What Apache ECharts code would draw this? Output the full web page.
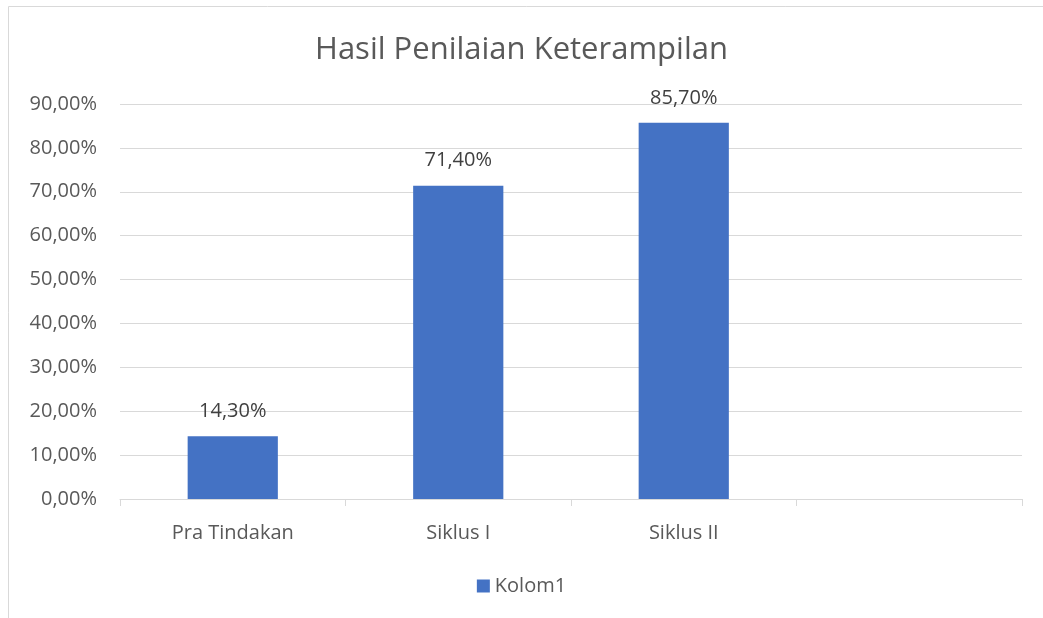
<!DOCTYPE html>
<html><head><meta charset="utf-8">
<script src="https://cdn.jsdelivr.net/npm/echarts@6/dist/echarts.min.js"></script>
<style>html,body{margin:0;padding:0;background:#fff}#c{width:1043px;height:618px}</style>
</head><body><div id="c"></div>
<script>
const categories = ['Pra Tindakan', 'Siklus I', 'Siklus II', ''];
const kolom1 = [14.3, 71.4, 85.7, null];
const yTicks = [0, 10, 20, 30, 40, 50, 60, 70, 80, 90];
const fmt = v => v.toFixed(2).replace('.', ',') + '%';
const FONT = '"Open Sans", "Noto Sans", sans-serif';
const chart = echarts.init(document.getElementById('c'));
chart.setOption({
  animation: false,
  textStyle: { fontFamily: FONT },
  graphic: [{ type: 'rect', shape: { x: 8.5, y: 6.5, width: 1100, height: 700 }, style: { fill: 'none', stroke: '#d9d9d9', lineWidth: 1 }, silent: true }],
  title: { text: 'Hasil Penilaian Keterampilan', left: 'center', top: 30, textStyle: { fontFamily: FONT, fontSize: 31, fontWeight: 'normal', color: '#595959' } },
  legend: { bottom: 17, left: 'center', itemWidth: 13, itemHeight: 13, itemGap: 10, icon: 'rect', textStyle: { fontFamily: FONT, fontSize: 20, color: '#595959' }, data: ['Kolom1'] },
  grid: { left: 120, right: 21, top: 104, bottom: 119, containLabel: false },
  xAxis: { type: 'category', data: categories,
    axisLine: { lineStyle: { color: '#d9d9d9', width: 1 } },
    axisTick: { show: true, alignWithLabel: false, length: 7, lineStyle: { color: '#d9d9d9' } },
    axisLabel: { fontFamily: FONT, fontSize: 20, color: '#595959', margin: 24 } },
  yAxis: { type: 'value', min: yTicks[0], max: yTicks[yTicks.length - 1], interval: 10,
    axisLine: { show: false }, axisTick: { show: false },
    splitLine: { lineStyle: { color: '#d9d9d9', width: 1 } },
    axisLabel: { fontFamily: FONT, fontSize: 20, color: '#595959', margin: 23, formatter: fmt } },
  series: [{ name: 'Kolom1', type: 'bar', data: kolom1, barWidth: '40%',
    itemStyle: { color: '#4472C4' },
    label: { show: true, position: 'top', distance: 15, fontFamily: FONT, fontSize: 20, color: '#404040', formatter: p => fmt(p.value) } }]
});
</script></body></html>
